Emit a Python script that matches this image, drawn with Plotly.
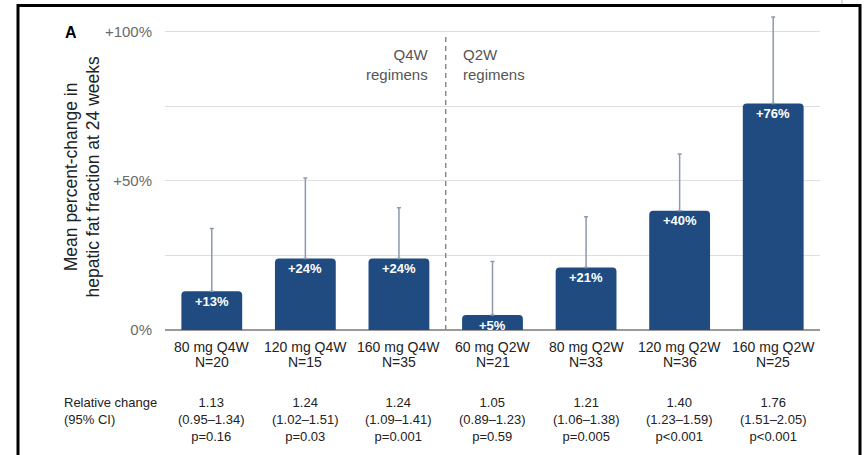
import plotly.graph_objects as go

# ---- data ----
categories = ["80 mg Q4W", "120 mg Q4W", "160 mg Q4W", "60 mg Q2W", "80 mg Q2W", "120 mg Q2W", "160 mg Q2W"]
n_labels = ["N=20", "N=15", "N=35", "N=21", "N=33", "N=36", "N=25"]
mean_change = [13, 24, 24, 5, 21, 40, 76]
upper_ci = [34, 51, 41, 23, 38, 59, 105]
rel_change = ["1.13", "1.24", "1.24", "1.05", "1.21", "1.40", "1.76"]
rel_ci = ["(0.95–1.34)", "(1.02–1.51)", "(1.09–1.41)", "(0.89–1.23)", "(1.06–1.38)", "(1.23–1.59)", "(1.51–2.05)"]
p_values = ["p=0.16", "p=0.03", "p=0.001", "p=0.59", "p=0.005", "p<0.001", "p<0.001"]
y_tickvals = [0, 25, 50, 75, 100]
y_ticktext = ["0%", "", "+50%", "", "+100%"]

FONT = "Liberation Sans, Arial, Helvetica, sans-serif"
BAR_COLOR = "#1f4b80"

# px -> paper helpers (plot area: x 165..820, y 2..330)
def px_x(px):
    return (px - 165) / 655.0

def px_y(py):
    return (330 - py) / 328.0

fig = go.Figure()
fig.add_trace(go.Bar(
    x=categories,
    y=mean_change,
    marker=dict(color=BAR_COLOR, line=dict(width=0)),
    width=0.65,
    error_y=dict(
        type="data",
        symmetric=False,
        array=[u - m for u, m in zip(upper_ci, mean_change)],
        arrayminus=[0] * len(mean_change),
        color="#8e99ac",
        thickness=1.5,
        width=2,
    ),
    hoverinfo="skip",
))

annotations = []
# bar value labels
for c, v in zip(categories, mean_change):
    annotations.append(dict(
        x=c, y=v, xref="x", yref="y", text=f"<b>+{v}%</b>", showarrow=False,
        yanchor="middle", yshift=-10, font=dict(family=FONT, size=13, color="white"),
    ))
# category labels
for c, n in zip(categories, n_labels):
    annotations.append(dict(x=c, y=px_y(347), xref="x", yref="paper", text=c, showarrow=False,
                            yanchor="middle", font=dict(family=FONT, size=14, color="#222222")))
    annotations.append(dict(x=c, y=px_y(362), xref="x", yref="paper", text=n, showarrow=False,
                            yanchor="middle", font=dict(family=FONT, size=14, color="#222222")))
# relative change table
for c, r, ci, p in zip(categories, rel_change, rel_ci, p_values):
    annotations.append(dict(x=c, y=px_y(419.5), xref="x", yref="paper",
                            text=f"{r}<br>{ci}<br>{p}", showarrow=False, align="center",
                            yanchor="middle", font=dict(family=FONT, size=13, color="#222222")))
annotations.append(dict(x=px_x(62), y=px_y(410.7), xref="paper", yref="paper",
                        text="Relative change<br>(95% CI)", showarrow=False, align="left",
                        xanchor="left", yanchor="middle", font=dict(family=FONT, size=13, color="#222222")))
# regimen labels
annotations.append(dict(x=2.5, y=px_y(65), xref="x", yref="paper", text="Q4W<br>regimens",
                        showarrow=False, align="right", xanchor="right", xshift=-15, yanchor="middle",
                        font=dict(family=FONT, size=15, color="#555555")))
annotations.append(dict(x=2.5, y=px_y(65), xref="x", yref="paper", text="Q2W<br>regimens",
                        showarrow=False, align="left", xanchor="left", xshift=15, yanchor="middle",
                        font=dict(family=FONT, size=15, color="#555555")))
# panel label
annotations.append(dict(x=px_x(63), y=px_y(33), xref="paper", yref="paper", text="<b>A</b>",
                        showarrow=False, xanchor="left", yanchor="middle",
                        font=dict(family=FONT, size=16, color="black")))
# y axis title
annotations.append(dict(x=px_x(82.5), y=px_y(177), xref="paper", yref="paper",
                        text="Mean percent-change in<br>hepatic fat fraction at 24 weeks",
                        textangle=-90, showarrow=False, xanchor="center", yanchor="middle",
                        font=dict(family=FONT, size=17.5, color="#222222")))

shapes = [
    # divider
    dict(type="line", xref="x", yref="y", x0=2.5, x1=2.5, y0=0, y1=99,
         line=dict(color="#8a8a8a", width=1.5, dash="5px,4px")),
    # frame
    dict(type="line", xref="paper", yref="paper", x0=px_x(18), x1=px_x(18), y0=px_y(4), y1=px_y(460),
         line=dict(color="black", width=3)),
    dict(type="line", xref="paper", yref="paper", x0=px_x(17), x1=px_x(861), y0=px_y(5.5), y1=px_y(5.5),
         line=dict(color="black", width=3)),
    dict(type="line", xref="paper", yref="paper", x0=px_x(860), x1=px_x(860), y0=px_y(4), y1=px_y(460),
         line=dict(color="black", width=3)),
    dict(type="line", xref="paper", yref="paper", x0=px_x(842), x1=px_x(842), y0=px_y(0), y1=px_y(4),
         line=dict(color="#bbbbbb", width=1)),
]

fig.update_layout(
    width=864, height=455,
    margin=dict(l=165, r=44, t=2, b=125),
    paper_bgcolor="white", plot_bgcolor="white",
    showlegend=False,
    barcornerradius=4,
    annotations=annotations,
    shapes=shapes,
    font=dict(family=FONT),
    xaxis=dict(type="category", categoryorder="array", categoryarray=categories,
               range=[-0.5, 6.5], showticklabels=False, showgrid=False, zeroline=False,
               showline=False, fixedrange=True),
    yaxis=dict(range=[0, 110], tickvals=y_tickvals, ticktext=y_ticktext,
               showgrid=True, gridcolor="#dedede", gridwidth=1.2,
               zeroline=True, zerolinecolor="#9a9a9a", zerolinewidth=1.5,
               showline=False, ticks="", ticklabelstandoff=12,
               tickfont=dict(family=FONT, size=15, color="#6a6a6a"), fixedrange=True),
)

fig.write_html("out.html")
